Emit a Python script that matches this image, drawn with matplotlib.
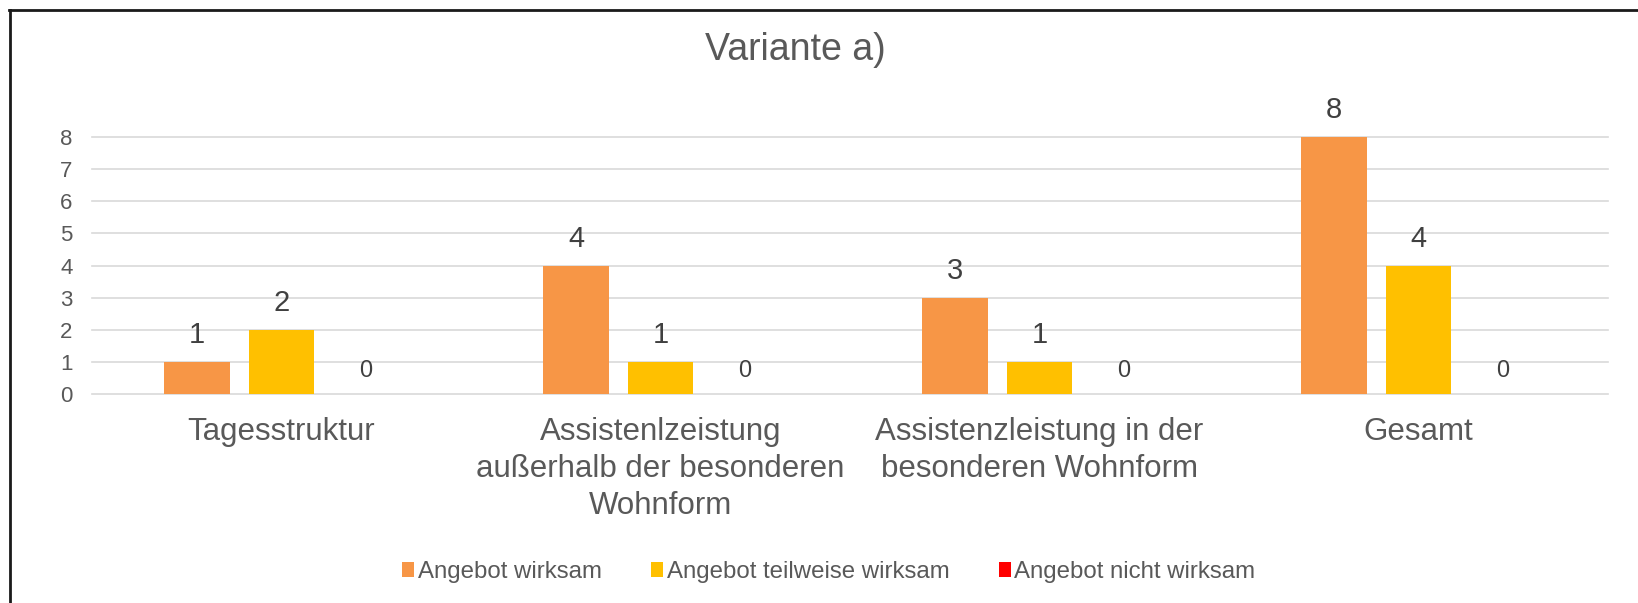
import matplotlib
matplotlib.use("Agg")
import matplotlib.pyplot as plt
from matplotlib.lines import Line2D
from matplotlib.patches import Patch
import numpy as np

categories = [
    "Tagesstruktur",
    "Assistenlzeistung\naußerhalb der besonderen\nWohnform",
    "Assistenzleistung in der\nbesonderen Wohnform",
    "Gesamt",
]
series_names = ["Angebot wirksam", "Angebot teilweise wirksam", "Angebot nicht wirksam"]
wirksam = [1, 4, 3, 8]
teilweise = [2, 1, 1, 4]
nicht = [0, 0, 0, 0]
yticks = [0, 1, 2, 3, 4, 5, 6, 7, 8]

colors = ["#F79646", "#FFC000", "#FF0000"]
text_col = "#595959"
label_col = "#404040"

plt.rcParams["font.family"] = ["Liberation Sans", "DejaVu Sans"]

fig = plt.figure(figsize=(16.38, 6.03), dpi=100)
ax = fig.add_axes([92 / 1638, 1 - 394 / 603, 1516 / 1638, 257 / 603])

x = np.arange(len(categories))
width = 0.174
step = 0.223
all_series = [wirksam, teilweise, nicht]
for i, vals in enumerate(all_series):
    pos = x + (i - 1) * step
    ax.bar(pos, vals, width=width, color=colors[i], zorder=3)
    for px, v in zip(pos, vals):
        if v == 0:
            ax.annotate(str(v), (px, v), xytext=(0, 12), textcoords="offset points",
                        ha="center", va="baseline", fontsize=17, color=label_col)
        else:
            ax.annotate(str(v), (px, v), xytext=(0, 13.5), textcoords="offset points",
                        ha="center", va="baseline", fontsize=21, color=label_col)

ax.set_xlim(-0.5, len(categories) - 0.5)
ax.set_ylim(0, 8)
ax.set_yticks(yticks)
ax.set_xticks(x)
ax.set_xticklabels(categories, fontsize=22.5, color=text_col, linespacing=1.3)
ax.tick_params(axis="y", length=0, pad=14, labelsize=16, labelcolor=text_col)
ax.tick_params(axis="x", length=0, pad=16.5)
for t in yticks:
    ax.axhline(t, color="#d9d9d9", lw=1.2, zorder=1, clip_on=False)
for s in ax.spines.values():
    s.set_visible(False)

fig.text(795 / 1638, 1 - 60 / 603, "Variante a)", ha="center", va="baseline",
         fontsize=27, color=text_col)

handles = [Patch(facecolor=c, edgecolor="none") for c in colors]
fig.legend(handles, series_names, loc="center", bbox_to_anchor=(829 / 1638, 1 - 572 / 603),
           ncol=3, frameon=False, fontsize=17.3, labelcolor=text_col,
           handlelength=0.5, handleheight=0.55, handletextpad=0.15, columnspacing=2.05)

# chart border (only top and left edges visible)
fig.add_artist(Line2D([9 / 1638, 1], [1 - 10 / 603, 1 - 10 / 603], color="#1a1a1a", lw=2,
                      transform=fig.transFigure))
fig.add_artist(Line2D([9.5 / 1638, 9.5 / 1638], [0, 1 - 10 / 603], color="#1a1a1a", lw=2,
                      transform=fig.transFigure))

fig.savefig("out.png", dpi=100, facecolor="white")
